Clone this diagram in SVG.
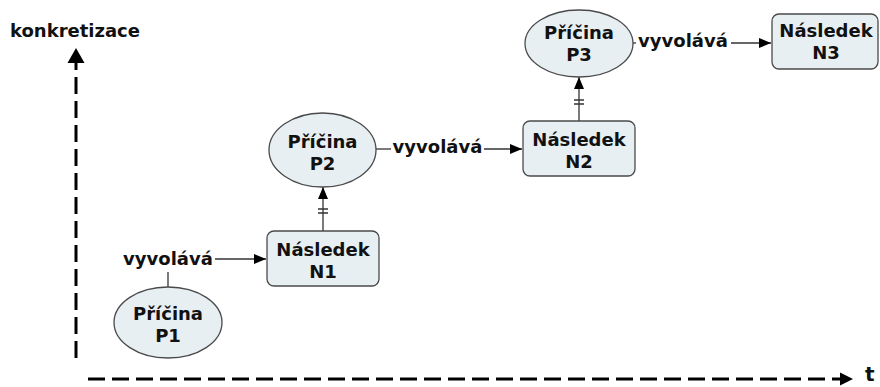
<svg xmlns="http://www.w3.org/2000/svg" width="880" height="387" viewBox="0 0 880 387">
  <style>
    .lbl { font-family: "DejaVu Sans", Verdana, sans-serif; font-weight: bold; font-size: 18px; fill: #111; }
    .node-shape { fill: #e8eff3; stroke: #4a4a4a; stroke-width: 1.3; }
    .conn { fill: none; stroke: #333; stroke-width: 1.3; }
    .axis { fill: none; stroke: #000; stroke-width: 3; stroke-dasharray: 17 7; }
  </style>
  <defs>
    <marker id="arr" viewBox="0 0 12 10" refX="12" refY="5" markerWidth="12" markerHeight="10" markerUnits="userSpaceOnUse" orient="auto">
      <path d="M0,0 L12,5 L0,10 Z" fill="#000"/>
    </marker>
  </defs>
  <rect width="880" height="387" fill="#fff"/>

  <!-- axes -->
  <g id="axes">
    <path class="axis" d="M76,358 L76,63"/>
    <path d="M76,48 L84.5,63 L67.5,63 Z" fill="#000"/>
    <path class="axis" d="M88,379 L840,379"/>
    <path d="M853,379 L840,372.5 L840,385.5 Z" fill="#000"/>
    <text class="lbl" x="10" y="37">konkretizace</text>
    <text class="lbl" x="865" y="381" style="font-size:20px">t</text>
  </g>

  <!-- connectors -->
  <g id="connectors">
    <!-- P1 -> N1 -->
    <path class="conn" d="M168,287 L168,272"/>
    <text class="lbl" x="168" y="265" text-anchor="middle">vyvolává</text>
    <path class="conn" d="M215,259 L266,259" marker-end="url(#arr)"/>
    <!-- N1 = P2 -->
    <path class="conn" d="M323,231 L323,187" marker-end="url(#arr)"/>
    <path class="conn" d="M318,209 L328,209 M318,213 L328,213" stroke-width="1.6"/>
    <!-- P2 -> N2 -->
    <path class="conn" d="M376,149 L391,149"/>
    <text class="lbl" x="437.5" y="153" text-anchor="middle">vyvolává</text>
    <path class="conn" d="M484,149 L522,149" marker-end="url(#arr)"/>
    <!-- N2 = P3 -->
    <path class="conn" d="M579,121 L579,77" marker-end="url(#arr)"/>
    <path class="conn" d="M574,100 L584,100 M574,104 L584,104" stroke-width="1.6"/>
    <!-- P3 -> N3 -->
    <path class="conn" d="M633,43 L636,43"/>
    <text class="lbl" x="683" y="47" text-anchor="middle">vyvolává</text>
    <path class="conn" d="M731,43 L771,43" marker-end="url(#arr)"/>
  </g>

  <!-- nodes -->
  <g id="P1">
    <ellipse class="node-shape" cx="168" cy="322.5" rx="54" ry="35.5"/>
    <text class="lbl" x="168" y="320" text-anchor="middle">Příčina</text>
    <text class="lbl" x="168" y="342" text-anchor="middle">P1</text>
  </g>
  <g id="N1">
    <rect class="node-shape" x="267" y="231" width="112" height="55" rx="7"/>
    <text class="lbl" x="323" y="256" text-anchor="middle">Následek</text>
    <text class="lbl" x="323" y="278" text-anchor="middle">N1</text>
  </g>
  <g id="P2">
    <ellipse class="node-shape" cx="322.5" cy="150" rx="53.5" ry="37"/>
    <text class="lbl" x="322.5" y="148" text-anchor="middle">Příčina</text>
    <text class="lbl" x="322.5" y="170" text-anchor="middle">P2</text>
  </g>
  <g id="N2">
    <rect class="node-shape" x="523" y="121" width="112" height="55" rx="7"/>
    <text class="lbl" x="579" y="146" text-anchor="middle">Následek</text>
    <text class="lbl" x="579" y="168" text-anchor="middle">N2</text>
  </g>
  <g id="P3">
    <ellipse class="node-shape" cx="579" cy="43.5" rx="54" ry="33.5"/>
    <text class="lbl" x="579" y="39" text-anchor="middle">Příčina</text>
    <text class="lbl" x="579" y="61" text-anchor="middle">P3</text>
  </g>
  <g id="N3">
    <rect class="node-shape" x="772" y="14" width="106" height="55" rx="7"/>
    <text class="lbl" x="826" y="37" text-anchor="middle">Následek</text>
    <text class="lbl" x="826" y="59" text-anchor="middle">N3</text>
  </g>
</svg>
